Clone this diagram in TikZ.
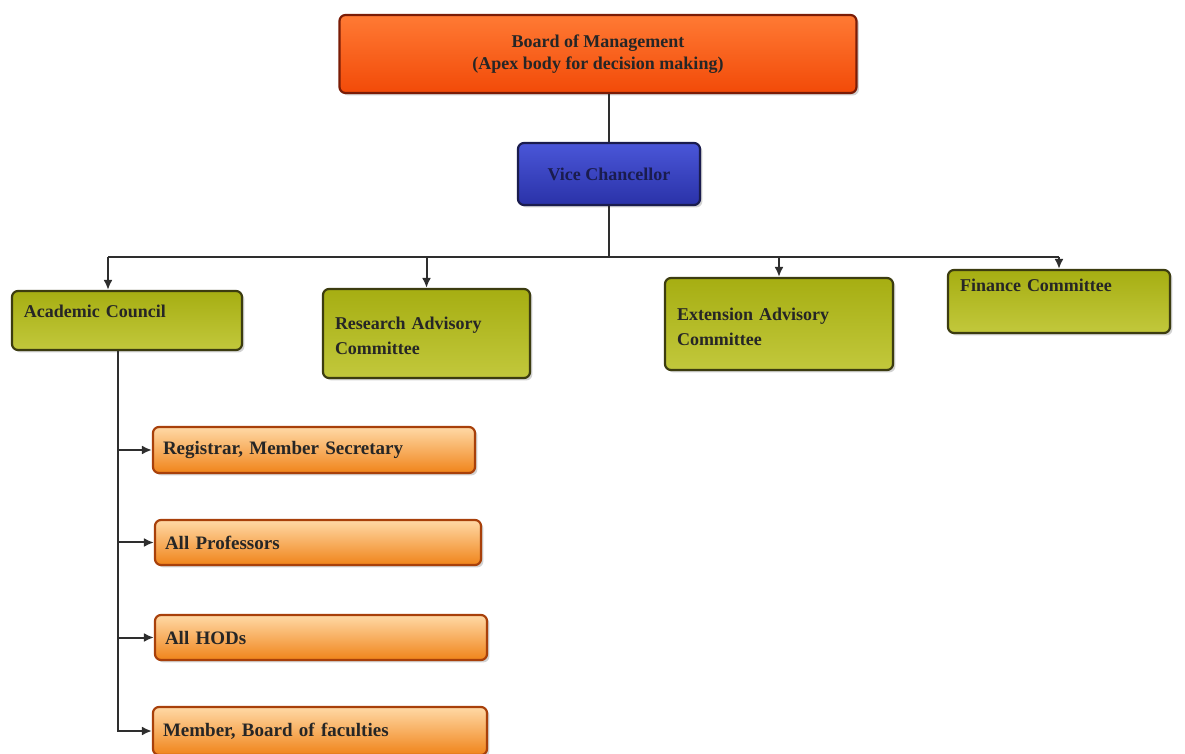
\documentclass[tikz,border=0pt]{standalone}
\usepackage{fontspec}
\setmainfont{Liberation Serif}
\usepackage{xcolor}
\definecolor{BoardTop}{HTML}{FF7A34}
\definecolor{BoardMid}{HTML}{FF5414}
\definecolor{BoardBot}{HTML}{F24A08}
\definecolor{BoardEdge}{HTML}{7A1C06}
\definecolor{VCTop}{HTML}{4A56D8}
\definecolor{VCBot}{HTML}{2A32A8}
\definecolor{VCEdge}{HTML}{1A1C4E}
\definecolor{ComTop}{HTML}{A6AE12}
\definecolor{ComBot}{HTML}{C2C83C}
\definecolor{ComEdge}{HTML}{3C3C10}
\definecolor{MemTop}{HTML}{FFD9A6}
\definecolor{MemBot}{HTML}{F0841A}
\definecolor{MemEdge}{HTML}{A8400A}
\definecolor{LineGray}{HTML}{2E2E2E}
\usetikzlibrary{arrows.meta,positioning,shadows}
\tikzset{
  orgbox/.style={rounded corners=3pt, line width=1.1pt, inner ysep=3pt,
                 drop shadow={shadow xshift=1.2pt, shadow yshift=-1.2pt, opacity=0.35}},
  bombox/.style={orgbox, draw=BoardEdge, top color=BoardTop, middle color=BoardMid, bottom color=BoardBot,
                 align=center, minimum width=258.5pt, minimum height=39pt,
                 font=\fontsize{9}{11}\selectfont\bfseries, text=black!85},
  vcbox/.style={orgbox, draw=VCEdge, top color=VCTop, bottom color=VCBot,
                align=center, minimum width=91pt, minimum height=31pt,
                font=\fontsize{9}{11}\selectfont\bfseries, text=VCEdge},
  combox/.style={orgbox, draw=ComEdge, top color=ComTop, bottom color=ComBot,
                 align=left, inner xsep=6pt, minimum height=29.5pt,
                 font=\fontsize{9}{12.5}\selectfont\bfseries, text=black!85},
  membox/.style={orgbox, draw=MemEdge, top color=MemTop, bottom color=MemBot,
                 align=left, inner xsep=5pt, minimum height=22.5pt,
                 font=\fontsize{9.5}{11}\selectfont\bfseries, text=black!85},
  orgline/.style={line width=1pt, LineGray},
  orgarr/.style={orgline, -{Latex[length=5pt,width=4.5pt]}}
}
\begin{document}
\begin{tikzpicture}[x=0.5pt, y=-0.5pt]
\useasboundingbox[fill=white] (0,0) rectangle (1185,754);
% apex and vice chancellor
\node[bombox] (bom) at (598,54) {Board of Management\\(Apex body for decision making)};
\node[vcbox] (vc) at (609,174) {Vice Chancellor};
% committees
\node[combox, text width=103pt, text depth=9pt] (ac) at (127,320.5) {Academic Council};
\node[combox, text width=91.5pt, minimum height=44.5pt, text depth=10pt] (rac) at (426.5,333.5) {Research Advisory\\Committee};
\node[combox, text width=102pt, minimum height=46pt, text depth=10pt] (eac) at (779,324) {Extension Advisory\\Committee};
\node[combox, text width=99pt, minimum height=31.5pt, text depth=16pt] (fc) at (1059,301.5) {Finance Committee};
% members of the academic council
\node[membox, text width=151pt, minimum height=23pt] (reg) at (314,450) {Registrar, Member Secretary};
\node[membox, text width=153pt] (ap) at (318,542.5) {All Professors};
\node[membox, text width=156pt] (hod) at (321,637.5) {All HODs};
\node[membox, text width=157pt, minimum height=24pt] (mem) at (320,731) {Member, Board of faculties};
% connectors
\coordinate (bus) at (609,257);
\coordinate (acin) at ([xshift=-9.5pt]ac.north);
\coordinate (trunk) at ([xshift=-4.5pt]ac.south);
\draw[orgline] (vc.north |- bom.south) -- (vc.north);
\draw[orgline] (vc.south) -- (vc.south |- bus);
\draw[orgline] (acin |- bus) -- (fc.north |- bus);
\draw[orgarr] (acin |- bus) -- (acin);
\foreach \c in {rac,eac,fc}
  \draw[orgarr] (\c.north |- bus) -- (\c.north);
\draw[orgarr] (trunk) |- (mem.west);
\foreach \m in {reg,ap,hod}
  \draw[orgarr] (trunk |- \m.west) -- (\m.west);
\end{tikzpicture}
\end{document}
